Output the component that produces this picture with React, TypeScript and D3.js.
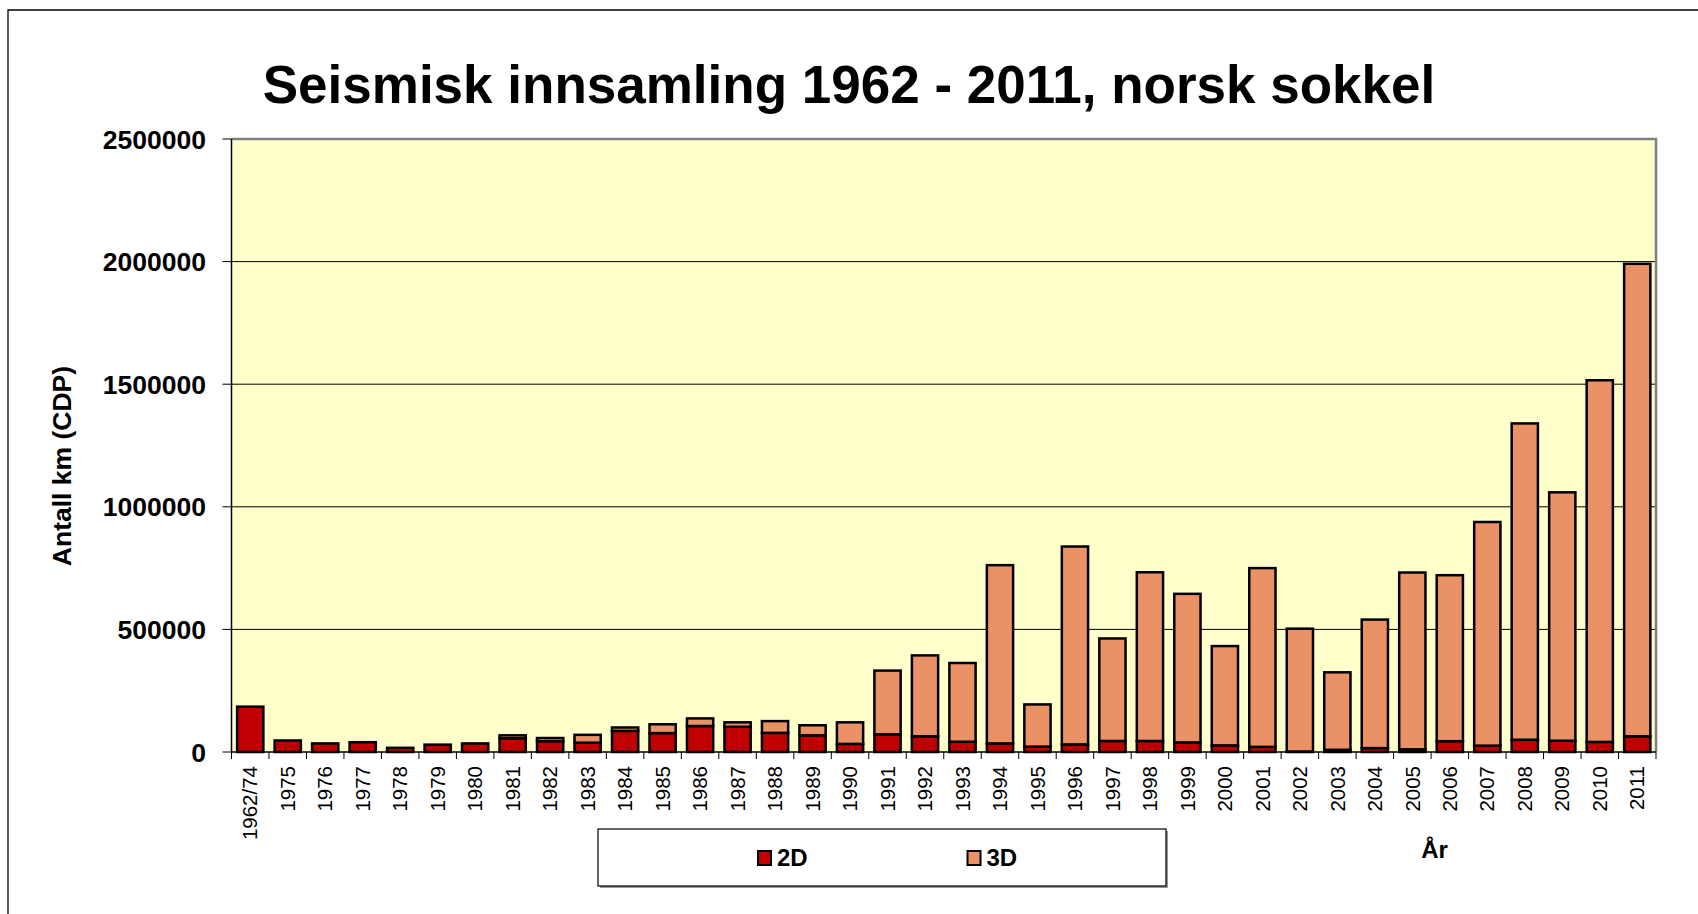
import React from "react";
import * as d3 from "d3";

// Kategorier (år)
const years = [
  "1962/74", "1975", "1976", "1977", "1978", "1979", "1980", "1981", "1982", "1983",
  "1984", "1985", "1986", "1987", "1988", "1989", "1990", "1991", "1992", "1993",
  "1994", "1995", "1996", "1997", "1998", "1999", "2000", "2001", "2002", "2003",
  "2004", "2005", "2006", "2007", "2008", "2009", "2010", "2011",
];

// 2D innsamling (km CDP)
const values2D = [
  185000, 47000, 35000, 40000, 17000, 30000, 35000, 56000, 44000, 38000,
  86000, 77000, 106000, 103000, 78000, 68000, 33000, 72000, 64000, 42000,
  35000, 22000, 31000, 45000, 45000, 39000, 27000, 21000, 2000, 9000,
  16000, 11000, 44000, 26000, 50000, 46000, 41000, 64000,
];

// 3D innsamling (km CDP)
const values3D = [
  0, 0, 0, 0, 0, 0, 0, 12000, 13000, 32000,
  14000, 36000, 31000, 18000, 48000, 41000, 88000, 260000, 330000, 321000,
  727000, 172000, 807000, 418000, 688000, 606000, 405000, 729000, 501000, 316000,
  524000, 721000, 677000, 912000, 1290000, 1013000, 1475000, 1927000,
];

const yTicks = [0, 500000, 1000000, 1500000, 2000000, 2500000];

const series = [
  { key: "2D", values: values2D, color: "#C00000" },
  { key: "3D", values: values3D, color: "#EA9166" },
];

const W = 1698;
const H = 914;
const margin = { left: 231.5, right: 42, top: 139, bottom: 162 };
const font = "'Liberation Sans', Arial, sans-serif";

const App = () => {
  const x = d3
    .scaleBand()
    .domain(years)
    .range([margin.left, W - margin.right])
    .paddingInner(0.3)
    .paddingOuter(0.15);
  const y = d3
    .scaleLinear()
    .domain([0, 2500000])
    .range([H - margin.bottom, margin.top]);

  const rows = years.map((yr, i) => ({ year: yr, "2D": values2D[i], "3D": values3D[i] }));
  const stacked = d3.stack().keys(series.map((s) => s.key))(rows as any);

  const y0 = y(0);
  const step = x.step();
  const boundaries = d3.range(years.length + 1).map((k) => margin.left + k * step);

  return (
    <svg
      width={W}
      height={H}
      style={{ position: "absolute", left: 0, top: 0, display: "block", background: "#fff" }}
      fontFamily={font}
    >
      {/* outer frame */}
      <path d={`M8,${H} L8,10 L${W},10`} fill="none" stroke="#000" strokeWidth={1.3} />

      <text x={849} y={103} textAnchor="middle" fontSize={53} fontWeight="bold">
        Seismisk innsamling 1962 - 2011, norsk sokkel
      </text>

      {/* plot area */}
      <rect
        x={margin.left}
        y={margin.top}
        width={W - margin.right - margin.left}
        height={y0 - margin.top}
        fill="#FFFFCC"
      />
      {yTicks.slice(1, -1).map((t) => (
        <line key={t} x1={margin.left} x2={W - margin.right} y1={y(t)} y2={y(t)} stroke="#000" strokeWidth={1} />
      ))}
      <path
        d={`M${margin.left},${margin.top} L${W - margin.right},${margin.top} L${W - margin.right},${y0}`}
        fill="none"
        stroke="#808080"
        strokeWidth={2.5}
      />

      {/* bars */}
      {stacked.map((layer, si) => (
        <g key={layer.key}>
          {layer.map((d, i) =>
            d[1] - d[0] > 0 ? (
              <rect
                key={i}
                x={x(years[i])}
                y={y(d[1])}
                width={x.bandwidth()}
                height={y(d[0]) - y(d[1])}
                fill={series[si].color}
                stroke="#000"
                strokeWidth={2.5}
              />
            ) : null
          )}
        </g>
      ))}

      {/* axes */}
      <line x1={margin.left} x2={margin.left} y1={margin.top} y2={y0} stroke="#000" strokeWidth={1.5} />
      <line x1={margin.left} x2={W - margin.right} y1={y0} y2={y0} stroke="#000" strokeWidth={1.5} />
      {yTicks.map((t) => (
        <g key={t}>
          <line x1={margin.left - 9} x2={margin.left} y1={y(t)} y2={y(t)} stroke="#000" strokeWidth={1} />
          <text x={206} y={y(t)} dy="0.36em" textAnchor="end" fontSize={26.5} fontWeight="bold">
            {t}
          </text>
        </g>
      ))}
      {boundaries.map((bx, k) => (
        <line key={k} x1={bx} x2={bx} y1={y0} y2={y0 + 7} stroke="#000" strokeWidth={1} />
      ))}
      {years.map((yr) => {
        const cx = (x(yr) as number) + x.bandwidth() / 2;
        return (
          <text
            key={yr}
            transform={`translate(${cx},766) rotate(-90)`}
            dy="0.35em"
            textAnchor="end"
            fontSize={20.5}
          >
            {yr}
          </text>
        );
      })}

      <text transform="translate(71,466) rotate(-90)" textAnchor="middle" fontSize={26.5} fontWeight="bold">
        Antall km (CDP)
      </text>

      <text x={1434.5} y={858} textAnchor="middle" fontSize={24} fontWeight="bold">
        År
      </text>

      {/* legend */}
      <rect x={600} y={831} width={568} height={57} fill="#999" />
      <rect x={598} y={829} width={568} height={57} fill="#fff" stroke="#000" strokeWidth={1.2} />
      {series.map((s, i) => {
        const lx = 758 + i * 209.5;
        return (
          <g key={s.key}>
            <rect x={lx} y={851} width={13} height={14} fill={s.color} stroke="#000" strokeWidth={2} />
            <text x={lx + 19} y={866} fontSize={24} fontWeight="bold">
              {s.key}
            </text>
          </g>
        );
      })}
    </svg>
  );
};

export default App;
